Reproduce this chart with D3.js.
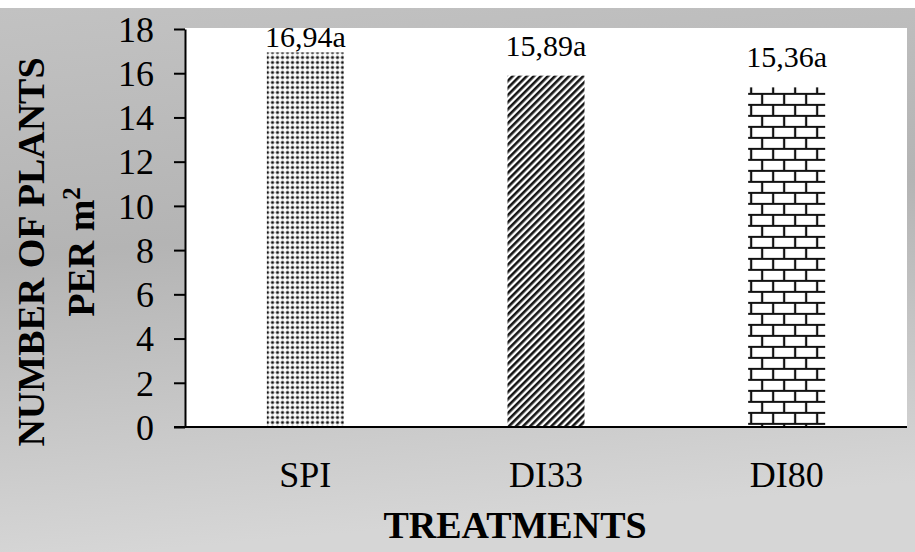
<!DOCTYPE html>
<html>
<head>
<meta charset="utf-8">
<script src="https://cdn.jsdelivr.net/npm/d3@7"></script>
<style>
  html, body { margin: 0; padding: 0; background: #fff; }
  svg { display: block; }
</style>
</head>
<body>
<svg id="chart" width="915" height="552"></svg>
<script>
// Plant density per treatment
const treatments = ["SPI", "DI33", "DI80"];
const plantsPerM2 = [16.94, 15.89, 15.36];
const groupLetters = ["a", "a", "a"];
const yTicks = [0, 2, 4, 6, 8, 10, 12, 14, 16, 18];

const svg = d3.select("#chart");
const W = 915, H = 552;
const plot = { left: 185, right: 907, top: 29, bottom: 427 };
const serif = "'Liberation Serif', 'Times New Roman', serif";

const defs = svg.append("defs");

// Chart-area background: soft grey gradient
const bg = defs.append("linearGradient").attr("id", "bgGrad")
  .attr("x1", 0).attr("y1", 0).attr("x2", 0.15).attr("y2", 1);
bg.append("stop").attr("offset", 0).attr("stop-color", "#c2c2c2");
bg.append("stop").attr("offset", 0.45).attr("stop-color", "#b4b4b4");
bg.append("stop").attr("offset", 1).attr("stop-color", "#d6d6d6");

// Fill patterns for the three bars
const dots = defs.append("pattern").attr("id", "patDots")
  .attr("patternUnits", "userSpaceOnUse").attr("width", 5).attr("height", 5);
dots.append("rect").attr("width", 5).attr("height", 5).attr("fill", "#fff");
dots.append("circle").attr("cx", 2.5).attr("cy", 2.5).attr("r", 2.0).attr("fill", "#949494");
dots.append("circle").attr("cx", 2.5).attr("cy", 2.5).attr("r", 1.1).attr("fill", "#111");

const stripes = defs.append("pattern").attr("id", "patStripes")
  .attr("patternUnits", "userSpaceOnUse").attr("width", 5).attr("height", 10)
  .attr("patternTransform", "rotate(45)");
stripes.append("rect").attr("width", 5).attr("height", 10).attr("fill", "#fff");
stripes.append("rect").attr("width", 2.6).attr("height", 10).attr("fill", "#151515");

const x = d3.scaleBand().domain(treatments).range([plot.left, plot.right])
  .paddingInner(0.68).paddingOuter(0.34);
const y = d3.scaleLinear().domain([0, 18]).range([plot.bottom, plot.top]);

const brickH = 11, brickW = 22;
const bricks = defs.append("pattern").attr("id", "patBricks")
  .attr("patternUnits", "userSpaceOnUse").attr("width", brickW).attr("height", brickH * 2)
  .attr("x", x("DI80") + 14).attr("y", y(plantsPerM2[2]) + 6.5);
bricks.append("rect").attr("width", brickW).attr("height", brickH * 2).attr("fill", "#fff");
const bp = d3.path();
bp.moveTo(0, 0); bp.lineTo(brickW, 0);
bp.moveTo(0, brickH); bp.lineTo(brickW, brickH);
bp.moveTo(0, brickH * 2); bp.lineTo(brickW, brickH * 2);
bp.moveTo(0, 0); bp.lineTo(0, brickH);
bp.moveTo(brickW, 0); bp.lineTo(brickW, brickH);
bp.moveTo(brickW / 2, brickH); bp.lineTo(brickW / 2, brickH * 2);
bricks.append("path").attr("d", bp.toString()).attr("stroke", "#111")
  .attr("stroke-width", 2.2).attr("fill", "none");

const fills = ["url(#patDots)", "url(#patStripes)", "url(#patBricks)"];

// Background and plot area
svg.append("rect").attr("x", 0).attr("y", 8).attr("width", W).attr("height", H - 8)
  .attr("fill", "url(#bgGrad)");
svg.append("rect").attr("x", plot.left).attr("y", plot.top - 1)
  .attr("width", plot.right - plot.left).attr("height", plot.bottom - plot.top + 1)
  .attr("fill", "#fff");

// Bars
svg.append("g").selectAll("rect").data(treatments).join("rect")
  .attr("x", d => x(d))
  .attr("width", x.bandwidth())
  .attr("y", (d, i) => y(plantsPerM2[i]))
  .attr("height", (d, i) => y(0) - y(plantsPerM2[i]))
  .attr("fill", (d, i) => fills[i]);

// Value labels with significance letters
svg.append("g").selectAll("text").data(treatments).join("text")
  .attr("x", d => x(d) + x.bandwidth() / 2)
  .attr("y", (d, i) => Math.max(y(plantsPerM2[i]) - 20, 46.5))
  .attr("text-anchor", "middle")
  .attr("font-family", serif).attr("font-size", 30).attr("fill", "#000")
  .text((d, i) => plantsPerM2[i].toFixed(2).replace(".", ",") + groupLetters[i]);

// Y axis
const yAxis = svg.append("g").attr("transform", `translate(${plot.left},0)`)
  .call(d3.axisLeft(y).tickValues(yTicks).tickSize(11).tickPadding(20).tickSizeOuter(0));
yAxis.select(".domain").attr("stroke", "#000").attr("stroke-width", 2);
yAxis.selectAll(".tick line").attr("stroke", "#000").attr("stroke-width", 2);
yAxis.selectAll(".tick text").attr("font-family", serif).attr("font-size", 36)
  .attr("fill", "#000").attr("dy", "0.34em");

// X axis
const xAxis = svg.append("g").attr("transform", `translate(0,${plot.bottom})`)
  .call(d3.axisBottom(x).tickSize(0).tickPadding(34).tickSizeOuter(0));
xAxis.select(".domain").attr("stroke", "#000").attr("stroke-width", 2)
  .attr("d", `M${plot.left - 11},0H${plot.right}`);
xAxis.selectAll(".tick text").attr("font-family", serif).attr("font-size", 36)
  .attr("fill", "#000").attr("dy", "0.71em");

// Axis titles
svg.append("text")
  .attr("x", 515).attr("y", 538).attr("text-anchor", "middle")
  .attr("font-family", serif).attr("font-size", 38).attr("font-weight", "bold")
  .attr("fill", "#000").text("TREATMENTS");

const yTitle = svg.append("g").attr("transform", "translate(0,252) rotate(-90)")
  .attr("font-family", serif).attr("font-size", 38).attr("font-weight", "bold")
  .attr("fill", "#000").attr("text-anchor", "middle");
yTitle.append("text").attr("x", 0).attr("y", 44).text("NUMBER OF PLANTS");
const l2 = yTitle.append("text").attr("x", 0).attr("y", 94);
l2.append("tspan").text("PER m");
l2.append("tspan").attr("font-size", 25).attr("dy", -14).text("2");
</script>
</body>
</html>
